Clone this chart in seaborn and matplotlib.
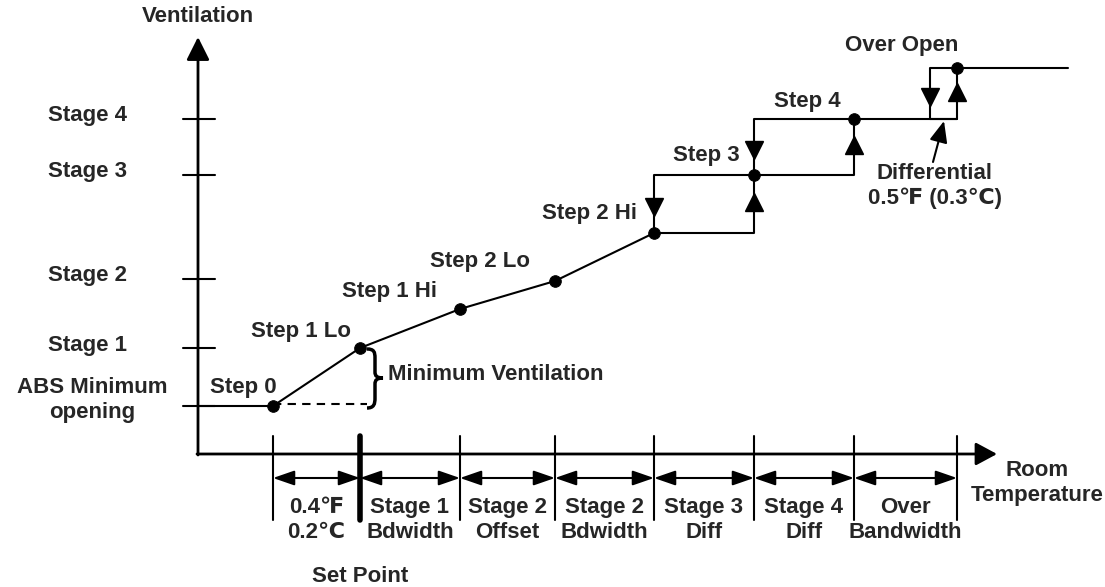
import numpy as np
import pandas as pd
import matplotlib
matplotlib.use("Agg")
import matplotlib.pyplot as plt
import seaborn as sns
from matplotlib.patches import FancyArrowPatch, PathPatch
from matplotlib.path import Path

# ---- diagram data (pixel layout of the reference) ----
# temperature breakpoints along the x axis
bounds_x = [273, 360, 460, 555, 654, 754, 854, 957]
band_top = ["0.4\u2109", "Stage 1", "Stage 2", "Stage 2", "Stage 3", "Stage 4", "Over"]
band_bot = ["0.2\u2103", "Bdwidth", "Offset", "Bdwidth", "Diff", "Diff", "Bandwidth"]

# ventilation levels on the y axis
stage_names = ["Stage 4", "Stage 3", "Stage 2", "Stage 1"]
stage_y = [119, 175, 279, 348]
abs_min_y = 406

# ramp part of the curve
ramp_names = ["Step 0", "Step 1 Lo", "Step 1 Hi", "Step 2 Lo", "Step 2 Hi"]
ramp_x = [273, 360, 460, 555, 654]
ramp_y = [406, 348, 309, 281, 233]

# hysteresis steps: (x going down, x going up, low level, high level)
steps_down_x = [654, 754, 930]
steps_up_x = [754, 854, 957]
steps_lo_y = [233, 175, 119]
steps_hi_y = [175, 119, 68]
step_names = ["Step 3", "Step 4", "Over Open"]

origin_x, origin_y = 198, 454
end_x = 1068

sns.set_style("white")
plt.rcParams['font.family'] = ['Liberation Sans', 'DejaVu Sans']
plt.rcParams['font.weight'] = 'bold'
FS = 16

fig = plt.figure(figsize=(11.05, 5.87), dpi=100)
ax = fig.add_axes([0, 0, 1, 1])
ax.set_xlim(0, 1105)
ax.set_ylim(587, 0)
ax.axis('off')

def arrow(p0, p1, style, lw=1.5, hl=13, hw=4.3):
    a = FancyArrowPatch(p0, p1, arrowstyle=f"{style},head_length={hl},head_width={hw}",
                        mutation_scale=1, lw=lw, color='black', shrinkA=0, shrinkB=0)
    ax.add_patch(a)

# axes with arrow heads
arrow((origin_x, origin_y + 1), (origin_x, 37), '-|>', lw=2, hl=14, hw=7)
arrow((origin_x - 1, origin_y), (997, origin_y), '-|>', lw=2, hl=13, hw=7)
ax.text(origin_x, 17, "Ventilation", ha='center', va='center', fontsize=FS, fontweight='bold')
ax.text(1037, 483, "Room\nTemperature", ha='center', va='center', fontsize=FS,
        fontweight='bold', linespacing=1.2)

# y ticks and stage labels
for name, y in zip(stage_names, stage_y):
    ax.plot([183, 215], [y, y], color='black', lw=1.5)
    ax.text(48, y - 3, name, ha='left', va='center', fontsize=FS, fontweight='bold')
ax.plot([183, 215], [abs_min_y, abs_min_y], color='black', lw=1.5)
ax.text(92, 400, "ABS Minimum\nopening", ha='center', va='center', fontsize=FS,
        fontweight='bold', linespacing=1.2)

# x bands below the axis
for i, x in enumerate(bounds_x):
    ax.plot([x, x], [436, 520], color='black', lw=4 if x == 360 else 1.5)
for i in range(len(bounds_x) - 1):
    arrow((bounds_x[i], 478), (bounds_x[i + 1], 478), '<|-|>', lw=1.5, hl=13, hw=4.5)
    ax.text((bounds_x[i] + bounds_x[i + 1]) / 2, 520, band_top[i] + "\n" + band_bot[i],
            ha='center', va='center', fontsize=FS, fontweight='bold', linespacing=1.2)
ax.text(360, 576, "Set Point", ha='center', va='center', fontsize=FS, fontweight='bold')

# ramp curve
sns.lineplot(x=[origin_x] + ramp_x, y=[abs_min_y] + ramp_y, sort=False, color='black',
             lw=1.5, ax=ax)
ax.plot([ramp_x[0], 367], [abs_min_y - 2, abs_min_y - 2], color='black', lw=1.5, ls=(0, (4, 3)))

# hysteresis steps
for xd, xu, lo, hi in zip(steps_down_x, steps_up_x, steps_lo_y, steps_hi_y):
    ax.plot([xd, xd, xu], [lo, hi, hi], color='black', lw=1.5)
    ax.plot([steps_down_x[0] if xd == 654 else xd, xu, xu], [lo, lo, hi], color='black', lw=1.5)
    ax.plot(xd, (lo + hi) / 2 + 3, marker='v', ms=13, color='black')
    ax.plot(xu, (lo + hi) / 2 - 2, marker='^', ms=13, color='black')
ax.plot([steps_up_x[1], steps_up_x[2]], [steps_lo_y[2], steps_lo_y[2]], color='black', lw=1.5)
ax.plot([steps_up_x[2], end_x], [steps_hi_y[2], steps_hi_y[2]], color='black', lw=1.5)

# dots
dots = pd.DataFrame({"x": ramp_x + steps_up_x, "y": ramp_y + steps_hi_y})
sns.scatterplot(data=dots, x="x", y="y", s=70, color='black', edgecolor='black', zorder=5, ax=ax)

# step labels
ax.text(243, 388, ramp_names[0], ha='center', va='center', fontsize=FS, fontweight='bold')
ax.text(301, 332, ramp_names[1], ha='center', va='center', fontsize=FS, fontweight='bold')
ax.text(390, 292, ramp_names[2], ha='center', va='center', fontsize=FS, fontweight='bold')
ax.text(480, 262, ramp_names[3], ha='center', va='center', fontsize=FS, fontweight='bold')
ax.text(590, 214, ramp_names[4], ha='center', va='center', fontsize=FS, fontweight='bold')
ax.text(706, 156, step_names[0], ha='center', va='center', fontsize=FS, fontweight='bold')
ax.text(807, 102, step_names[1], ha='center', va='center', fontsize=FS, fontweight='bold')
ax.text(902, 45, step_names[2], ha='center', va='center', fontsize=FS, fontweight='bold')

# minimum ventilation brace
brace = Path([(367, 349), (374, 349), (375, 352), (375, 358),
              (375, 372),
              (375, 376), (377, 378), (383, 378),
              (377, 378), (375, 380), (375, 384),
              (375, 398),
              (375, 404), (374, 408), (367, 408)],
             [Path.MOVETO, Path.CURVE4, Path.CURVE4, Path.CURVE4,
              Path.LINETO,
              Path.CURVE4, Path.CURVE4, Path.CURVE4,
              Path.CURVE4, Path.CURVE4, Path.CURVE4,
              Path.LINETO,
              Path.CURVE4, Path.CURVE4, Path.CURVE4])
ax.add_patch(PathPatch(brace, fill=False, lw=2.5, color='black'))
ax.text(388, 374, "Minimum Ventilation", ha='left', va='center', fontsize=FS, fontweight='bold')

# differential note
arrow((933, 162), (944, 121), '-|>', lw=1.5, hl=13, hw=5.5)
ax.text(935, 186, "Differential\n0.5\u2109 (0.3\u2103)", ha='center', va='center', fontsize=FS,
        fontweight='bold', linespacing=1.2)

fig.savefig("out.png", dpi=100)
